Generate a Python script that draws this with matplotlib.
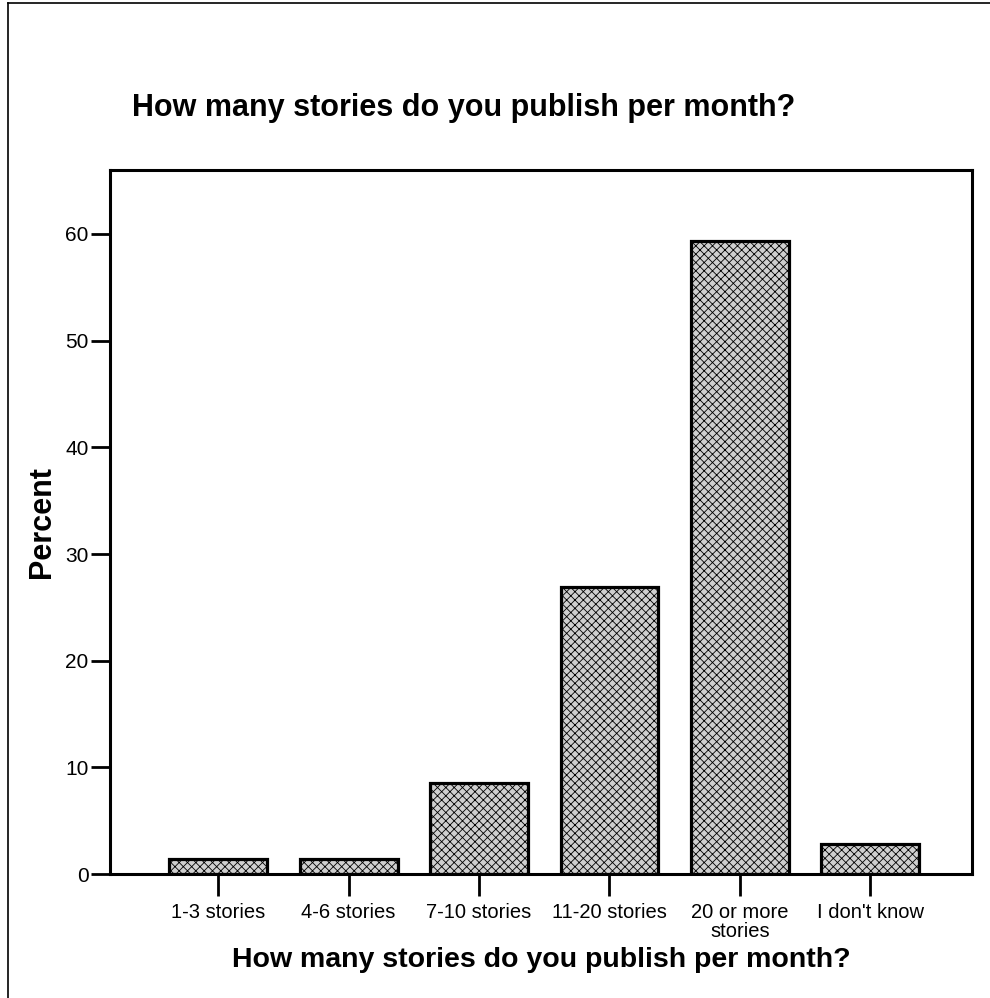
import matplotlib
matplotlib.use("Agg")
import matplotlib.pyplot as plt
from matplotlib.lines import Line2D

categories = ["1-3 stories", "4-6 stories", "7-10 stories", "11-20 stories",
              "20 or more\nstories", "I don't know"]
percent = [1.4, 1.4, 8.5, 26.9, 59.3, 2.8]
yticks = [0, 10, 20, 30, 40, 50, 60]
title = "How many stories do you publish per month?"
xlabel = "How many stories do you publish per month?"
ylabel = "Percent"

plt.rcParams['font.family'] = ['Liberation Sans', 'DejaVu Sans']
plt.rcParams['hatch.linewidth'] = 0.6

fig = plt.figure(figsize=(9.9, 9.98), dpi=100)
ax = fig.add_axes([0.1111, 0.1242, 0.8707, 0.7055])

x = list(range(len(categories)))
ax.bar(x, percent, width=0.75, facecolor='#cfcfcf', edgecolor='black',
       linewidth=2.3, hatch='xxxx')
ax.set_xlim(-0.83, 5.78)
ax.set_ylim(0, 66)
ax.set_yticks(yticks)
ax.set_xticks(x)
ax.set_xticklabels(categories, fontsize=14.5, linespacing=1.0)
ax.tick_params(axis='y', labelsize=15, length=14, width=2, pad=1.5)
ax.tick_params(axis='x', length=16, width=2, pad=5)
for s in ax.spines.values():
    s.set_linewidth(2.2)

ax.set_ylabel(ylabel, fontsize=22, fontweight='bold', labelpad=6)
ax.set_xlabel(xlabel, fontsize=20.5, fontweight='bold', labelpad=4)
fig.text(0.468, 0.892, title, fontsize=22, fontweight='bold',
         ha='center', va='center')

# outer frame
fig.add_artist(Line2D([0.008, 0.008], [0.0, 0.997], color='black', lw=1.2,
                      transform=fig.transFigure))
fig.add_artist(Line2D([0.008, 1.0], [0.997, 0.997], color='black', lw=1.2,
                      transform=fig.transFigure))

fig.savefig("out.png", dpi=100)
